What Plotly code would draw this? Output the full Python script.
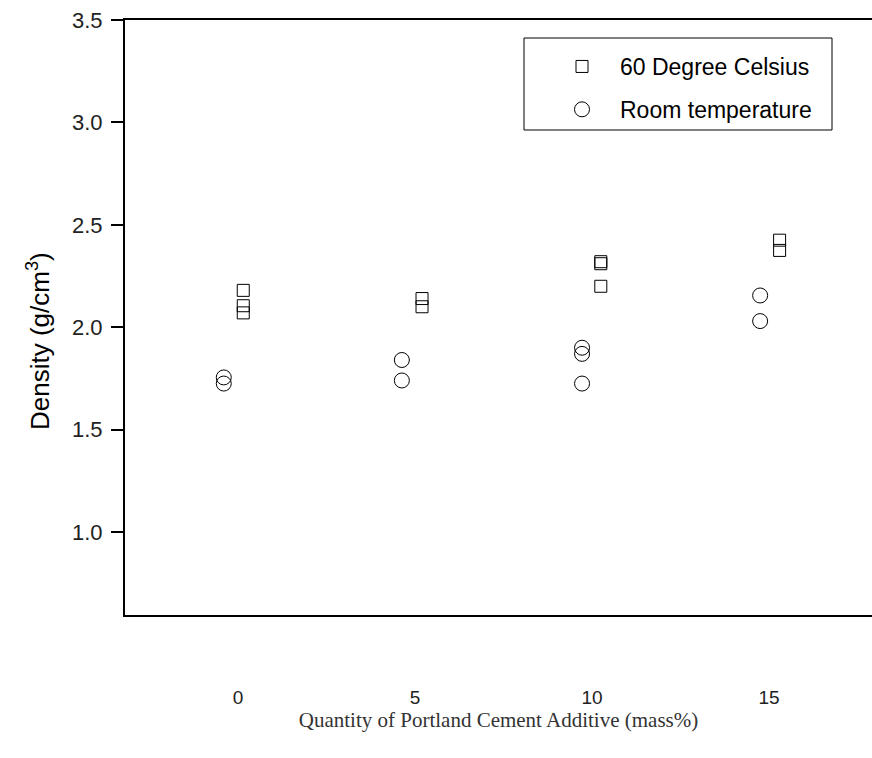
import plotly.graph_objects as go

# Data
x_hot = [0.15, 0.15, 0.15, 5.2, 5.2, 10.25, 10.25, 10.25, 15.3, 15.3]
y_hot = [2.18, 2.105, 2.07, 2.14, 2.10, 2.32, 2.31, 2.20, 2.425, 2.375]
x_room = [-0.4, -0.4, 4.63, 4.63, 9.72, 9.72, 9.72, 14.75, 14.75]
y_room = [1.755, 1.725, 1.84, 1.74, 1.90, 1.87, 1.725, 2.155, 2.03]

x_ticks = [0, 5, 10, 15]
y_ticks = [1.0, 1.5, 2.0, 2.5, 3.0, 3.5]

fig = go.Figure()
fig.add_trace(go.Scatter(
    x=x_hot, y=y_hot, mode="markers", name="60 Degree Celsius",
    legendgroup="a",
    marker=dict(symbol="square-open", size=12, color="black", line=dict(width=1)),
))
fig.add_trace(go.Scatter(
    x=x_room, y=y_room, mode="markers", name="Room temperature",
    legendgroup="b",
    marker=dict(symbol="circle-open", size=15, color="black", line=dict(width=1)),
))

fig.update_layout(
    width=872, height=758,
    margin=dict(l=125, r=0, t=20, b=143),
    plot_bgcolor="white", paper_bgcolor="white",
    font=dict(family="Liberation Sans, Arial", color="#222"),
    showlegend=True,
    legend=dict(
        x=(544 - 125) / 747, y=0.958, xanchor="left", yanchor="top",
        bgcolor="rgba(0,0,0,0)", borderwidth=0,
        font=dict(size=23, color="black", family="Liberation Sans, Arial"),
        tracegroupgap=10, traceorder="grouped", itemwidth=66,
    ),
    xaxis=dict(
        range=[-3.19, 17.91],
        tickvals=x_ticks, ticktext=[str(v) for v in x_ticks],
        ticks="", showgrid=False, zeroline=False,
        showline=True, linecolor="black", linewidth=2, mirror=True,
        ticklabelstandoff=64,
        tickfont=dict(size=19, color="#222"),
        title=dict(text="Quantity of Portland Cement Additive (mass%)",
                   font=dict(family="Liberation Serif, Times New Roman", size=21, color="#333"),
                   standoff=5),
        automargin=False,
    ),
    yaxis=dict(
        range=[0.595, 3.5],
        tickvals=y_ticks, ticktext=[f"{v:.1f}" for v in y_ticks],
        ticks="outside", ticklen=12, tickwidth=2, tickcolor="black",
        showgrid=False, zeroline=False,
        showline=True, linecolor="black", linewidth=2,
        ticklabelstandoff=4,
        tickfont=dict(size=22, color="#222"),
        automargin=False,
    ),
    annotations=[dict(
        text="Density (g/cm<sup>3</sup>)", textangle=-90,
        xref="paper", yref="paper", x=(38 - 125) / 747, y=(615 - 341) / 595,
        xanchor="center", yanchor="middle", showarrow=False,
        font=dict(size=26, color="black", family="Liberation Sans, Arial"),
    )],
    shapes=[dict(type="rect", xref="paper", yref="paper",
                 x0=(524 - 125) / 747, x1=(832 - 125) / 747,
                 y0=(615 - 130) / 595, y1=(615 - 38) / 595,
                 line=dict(color="black", width=1), fillcolor="rgba(0,0,0,0)")],
)

fig.write_html("out.html")
